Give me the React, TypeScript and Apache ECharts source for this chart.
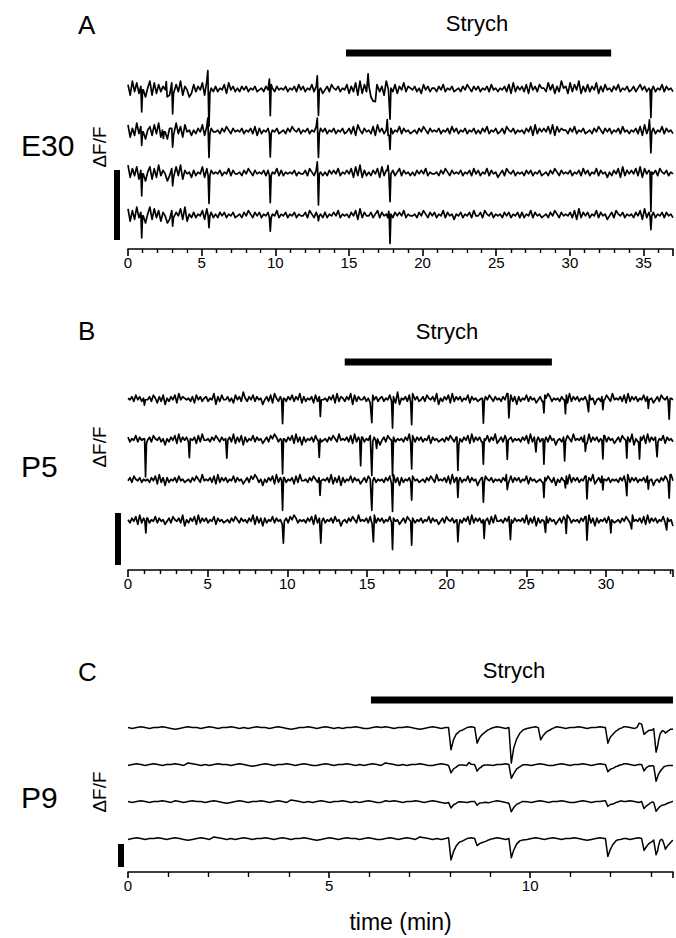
import React, { useEffect, useRef } from "react";
import * as echarts from "echarts";

const FONT = "'Liberation Sans', Arial, Helvetica, sans-serif";

// ---------------- DATA ----------------
// x-axis ranges (min)
const A_X_MAX = 37;
const B_X_MAX = 34.2;
const C_X_MAX = 13.55;
const A_TICK_LABELS = [0, 5, 10, 15, 20, 25, 30, 35];
const B_TICK_LABELS = [0, 5, 10, 15, 20, 25, 30];
const C_TICK_LABELS = [0, 5, 10];

// strychnine application windows (min)
const A_STRYCH = [14.8, 32.8];
const B_STRYCH = [13.6, 26.6];
const C_STRYCH = [6.04, 13.55];

// baseline fluctuation of each trace (digits 0-9, evenly spread over the recording)
const A_NOISE = [
  "7193826405918273640182739164027364819253635472846353646354634536475364546354637463547364524637546354" +
  "7263819273648273619453726483654635274635536473546345364753646354637453546372836463728463755384726395" +
  "62837492637364826374536473546346357463546354736453",
  "8162937405728391540662937184525364827364453647536454635463726354635463453647546354635473646354635463" +
  "4637285364537284635263547364534536475364546354637463546354635364735463463754635453647283646473827465" +
  "53647354634536475364635463745354637283646354736453",
  "9273816405817293640372839164526354827364546354736445364753645463635473635454635446375364535364647354" +
  "6472839263536472836446357364535364647354453647536454635463746354736452463754635453646354634536475364" +
  "54635463746354736452536472836464738274654637546354",
  "8172936405928371640273648291536354728463536463546345364753646354635473546354635446375364536354647354" +
  "5364728364463573645353646473544536475364635473645254635463744637546354536463546363547364534536475364" +
  "54637283646354736452463754635453647283646354636453",
];
const B_NOISE = [
  "5463746354463752637153647284654536274635635481637446352746395364736451463728536453647364826354627364" +
  "4536472836536481736446352746356354736291546372846346375463815364728364635472645345364753645364827361" +
  "63547364524637586354536472836463546374514536475384546372836463547364524637546354",
  "6354736452463754635153647283646354627384453647536454638263716354736452463758635453647283616354637453" +
  "4536475384546372836463547364514637546354536482736463547264534536475361536472836463547364824637546354" +
  "53647283646354637451453647538454637283646354736452463754638153647283646354726453",
  "4637546354536472836163546374534536475384546372836463547364524637586351536472836463546273844536475364" +
  "5463826371635473645246375463545364728361635463745345364753845463728364635473645146375463545364827364" +
  "63547264534536475361536472836463547364824637546354536472836463546374514536475384",
  "5364728364635473645246375463815364728364635472645345364753645364827361635473645246375863545364728364" +
  "6354637451453647538454637283646354736452463754635463547364524637546351536472836463546273844536475364" +
  "54638263716354736452463758635453647283616354637453453647538454637283646354736451",
];
const C_NOISE = [
  "54565455654345655456545565454565545654345565456545455654456565455654345654556545654345654565545654456545565455654345654565455654",
  "45654565455654765454565545654345654556545654456545565454565476545455654456545654345654556545654565445654556545654345654556545654",
  "54565455654654565545654345654556545654765454565455654545654465654556545654345654556545654345654565455654456545565456565455654345",
  "45654556545654345654765454565455654565455654345654565545654456545654765454565545654345654556545654565455654345654565545654456545",
];

// transient events per trace: [time (min), depth (trace spacings, + = downward), optional width]
const A_EVENTS = [
  [[0.93, 0.61], [3.03, 0.74], [5.5, 0.78], [9.66, 0.74], [12.93, 0.61], [16.65, 0.45, 0.25], [17.79, 0.74], [35.5, 0.66], [16.3, -0.3], [5.42, -0.25], [9.58, -0.2], [12.85, -0.25], [2.6, -0.2]],
  [[0.93, 0.45], [3.03, 0.45], [5.5, 0.57], [9.66, 0.57], [12.93, 0.57], [17.79, 0.5], [35.5, 0.5], [2.4, 0.2], [17.6, -0.25], [5.42, -0.2], [12.85, -0.2], [35.4, -0.2]],
  [[0.93, 0.61], [3.03, 0.41], [5.5, 0.66], [9.66, 0.66], [12.93, 0.74], [17.79, 0.66], [35.5, 0.94], [12.85, -0.2], [17.65, -0.2]],
  [[0.93, 0.61], [3.03, 0.37], [5.5, 0.29], [9.66, 0.33], [12.93, 0.12], [17.79, 0.7], [35.5, 0.33], [17.7, -0.15]],
];
const B_EVENTS = [
  [[1.03, 0.17], [9.7, 0.59], [12.07, 0.49], [15.3, 0.68], [16.6, 0.66], [17.8, 0.54], [22.3, 0.54], [23.9, 0.37], [26.1, 0.44], [27.45, 0.46], [28.9, 0.41], [29.8, 0.32], [32.65, 0.29], [33.96, 0.44]],
  [[1.1, 0.83], [3.85, 0.39], [6.2, 0.44], [9.7, 0.83], [12.0, 0.46], [14.6, 0.63], [15.3, 0.83], [15.6, 0.2], [16.6, 0.88], [17.8, 0.63], [20.7, 0.63], [22.3, 0.63], [23.8, 0.51], [25.6, 0.29], [26.1, 0.59], [27.4, 0.51], [28.7, 0.39], [29.8, 0.46], [31.3, 0.44], [32.1, 0.54], [33.2, 0.37]],
  [[9.7, 0.73], [12.05, 0.44], [15.3, 0.73], [16.6, 0.68], [17.8, 0.44], [20.7, 0.41], [22.3, 0.49], [23.8, 0.37], [26.1, 0.49], [27.45, 0.29], [28.8, 0.41], [29.8, 0.34], [31.3, 0.29], [32.65, 0.32], [33.96, 0.39]],
  [[1.12, 0.29], [9.75, 0.54], [12.1, 0.54], [15.4, 0.66], [16.6, 0.66], [17.8, 0.59], [20.7, 0.39], [22.35, 0.46], [24.0, 0.49], [26.2, 0.39], [27.5, 0.34], [28.8, 0.39], [30.3, 0.29], [31.6, 0.34], [33.8, 0.29]],
];
const C_EVENTS = [
  [[8.0, 0.6], [8.65, 0.42], [9.5, 0.96], [10.23, 0.33], [11.9, 0.4], [12.8, 0.25], [13.1, 0.65], [13.33, 0.12], [12.68, -0.12], [13.2, -0.12]],
  [[8.0, 0.2], [8.65, 0.17], [9.5, 0.37], [11.9, 0.17], [12.8, 0.17], [13.1, 0.42], [8.45, -0.08]],
  [[8.0, 0.15], [8.65, 0.1], [9.5, 0.23], [11.9, 0.13], [12.8, 0.19], [13.1, 0.25]],
  [[8.0, 0.6], [8.65, 0.19], [9.5, 0.52], [11.9, 0.46], [12.8, 0.32], [13.1, 0.42], [13.33, 0.27], [13.2, -0.12]],
];

// ---------------- LAYOUT ----------------
type Panel = {
  letter: string; age: string; xMax: number; ticks: number[]; strych: number[];
  noise: string[]; events: number[][][]; gain: number; kind: "spike" | "slow";
  t1: number; sp: number; axisY: number; barY: number;
  letterY: number; strychX: number; strychY: number; ageY: number; dffY: number;
  scale: number[]; majorLen: number; minorLen: number; lw: number; name?: string;
};

const PANELS: Panel[] = [
  { letter: "A", age: "E30", xMax: A_X_MAX, ticks: A_TICK_LABELS, strych: A_STRYCH, noise: A_NOISE, events: A_EVENTS,
    gain: 0.042, kind: "spike", t1: 89, sp: 42, axisY: 249, barY: 53, letterY: 25, strychX: 477, strychY: 23,
    ageY: 145, dffY: 147, scale: [114, 170, 6, 70], majorLen: 7, minorLen: 4, lw: 1.7 },
  { letter: "B", age: "P5", xMax: B_X_MAX, ticks: B_TICK_LABELS, strych: B_STRYCH, noise: B_NOISE, events: B_EVENTS,
    gain: 0.038, kind: "spike", t1: 399, sp: 40.5, axisY: 570, barY: 362, letterY: 331, strychX: 447, strychY: 331,
    ageY: 466, dffY: 447, scale: [115, 513, 6, 52], majorLen: 7, minorLen: 4, lw: 1.7 },
  { letter: "C", age: "P9", xMax: C_X_MAX, ticks: C_TICK_LABELS, strych: C_STRYCH, noise: C_NOISE, events: C_EVENTS,
    gain: 0.022, kind: "slow", t1: 728, sp: 37, axisY: 872, barY: 700, letterY: 672, strychX: 514, strychY: 670,
    ageY: 797, dffY: 792, scale: [118, 844, 6, 23], majorLen: 6, minorLen: 5, lw: 1.5, name: "time (min)" },
];

// event shapes (offsets in min, relative amplitude)
const SLOW_OFF = [-0.03, 0.03, 0.09, 0.16, 0.24, 0.33, 0.43];
const SLOW_VAL = [0, -1, -0.6, -0.33, -0.16, -0.06, 0];

function shape(kind: string, w?: number) {
  if (kind === "slow") return { off: SLOW_OFF, val: SLOW_VAL };
  const ww = w ?? 0.06;
  return { off: [-ww, 0, ww], val: [0, -1, 0] };
}

function kernel(tpl: { off: number[]; val: number[] }, dt: number) {
  const o = tpl.off;
  if (dt <= o[0] || dt >= o[o.length - 1]) return 0;
  for (let k = 1; k < o.length; k++) {
    if (dt <= o[k]) {
      const f = (dt - o[k - 1]) / (o[k] - o[k - 1]);
      return tpl.val[k - 1] + f * (tpl.val[k] - tpl.val[k - 1]);
    }
  }
  return 0;
}

function buildTrace(p: Panel, idx: number) {
  const str = p.noise[idx];
  const n = str.length;
  const step = p.xMax / (n - 1);
  const vals = str.split("").map((c) => (Number(c) - 4.5) * p.gain);
  const evs = p.events[idx].map((e) => ({ t: e[0], d: e[1], tpl: shape(p.kind, e[2]) }));
  const times: number[] = [];
  for (let i = 0; i < n; i++) times.push(i * step);
  evs.forEach((e) => e.tpl.off.forEach((o) => times.push(e.t + o)));
  const ts = Array.from(new Set(times.filter((t) => t >= 0 && t <= p.xMax))).sort((a, b) => a - b);
  const base = -idx;
  return ts.map((t) => {
    const ni = Math.min(n - 1, Math.max(0, Math.round(t / step)));
    let v = vals[ni];
    evs.forEach((e) => { v += e.d * kernel(e.tpl, t - e.t); });
    return [t, base + v];
  });
}

function App() {
  const ref = useRef<HTMLDivElement>(null);
  useEffect(() => {
    if (!ref.current) return;
    const chart = echarts.init(ref.current, undefined, { renderer: "svg" });
    const grids: any[] = [];
    const xAxes: any[] = [];
    const yAxes: any[] = [];
    const series: any[] = [];
    const graphics: any[] = [];

    PANELS.forEach((p, pi) => {
      const gridTop = p.barY - 12;
      grids.push({ left: 128, right: 0, top: gridTop, height: p.axisY - gridTop, containLabel: false });
      yAxes.push({ type: "value", gridIndex: pi, show: false, min: -(p.axisY - p.t1) / p.sp, max: (p.t1 - gridTop) / p.sp });
      xAxes.push({
        type: "value", gridIndex: pi, min: 0, max: p.xMax, interval: 5,
        axisLine: { show: true, onZero: false, lineStyle: { color: "#000", width: 1.6 } },
        axisTick: { show: true, length: p.majorLen, lineStyle: { color: "#000", width: 1.6 } },
        minorTick: { show: true, splitNumber: 5, length: p.minorLen, lineStyle: { color: "#000", width: 1.4 } },
        splitLine: { show: false }, minorSplitLine: { show: false },
        axisLabel: { color: "#000", fontSize: 15, fontFamily: FONT, margin: 6,
          formatter: (v: number) => (p.ticks.includes(v) ? String(v) : "") },
        name: p.name || "", nameLocation: "middle", nameGap: 38,
        nameTextStyle: { color: "#000", fontSize: 23, fontFamily: FONT },
      });
      for (let i = 0; i < 4; i++) {
        series.push({
          type: "line", xAxisIndex: pi, yAxisIndex: pi, data: buildTrace(p, i),
          showSymbol: false, symbol: "none", silent: true,
          lineStyle: { color: "#000", width: p.lw, join: "round" }, animation: false,
        });
      }
      const barVal = (p.t1 - p.barY) / p.sp;
      series.push({
        type: "line", xAxisIndex: pi, yAxisIndex: pi, data: [[p.strych[0], barVal], [p.strych[1], barVal]],
        showSymbol: false, symbol: "none", silent: true, clip: false,
        lineStyle: { color: "#000", width: 7, cap: "butt" }, animation: false,
      });
      graphics.push(
        { type: "text", x: 78, y: p.letterY, style: { text: p.letter, font: `26px ${FONT}`, fill: "#000", textAlign: "left", textVerticalAlign: "middle", align: "left", verticalAlign: "middle" } },
        { type: "text", x: p.strychX, y: p.strychY, style: { text: "Strych", font: `22px ${FONT}`, fill: "#000", textAlign: "center", textVerticalAlign: "middle", align: "center", verticalAlign: "middle" } },
        { type: "text", x: 21, y: p.ageY, style: { text: p.age, font: `30px ${FONT}`, fill: "#000", textAlign: "left", textVerticalAlign: "middle", align: "left", verticalAlign: "middle" } },
        { type: "text", x: 99, y: p.dffY, rotation: Math.PI / 2, style: { text: "ΔF/F", font: `19px ${FONT}`, fill: "#000", textAlign: "center", textVerticalAlign: "middle", align: "center", verticalAlign: "middle" } },
        { type: "rect", shape: { x: p.scale[0], y: p.scale[1], width: p.scale[2], height: p.scale[3] }, style: { fill: "#000" } },
      );
    });

    chart.setOption({
      animation: false,
      backgroundColor: "#fff",
      grid: grids,
      xAxis: xAxes,
      yAxis: yAxes,
      series,
      graphic: { elements: graphics },
    });
    return () => chart.dispose();
  }, []);
  return <div ref={ref} style={{ width: 676, height: 938, position: "absolute", left: 0, top: 0 }} />;
}

export default App;
